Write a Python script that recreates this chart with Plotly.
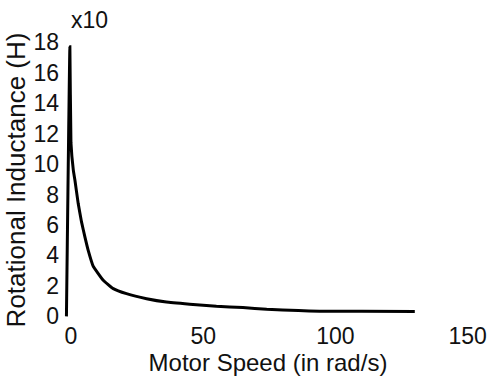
import plotly.graph_objects as go

# Data
speed = [-1.7, -0.4, 0.0, 0.9, 1.5, 2.75, 4.0, 5.3, 6.5, 8.4, 12.2, 16.0, 21.0, 28.6, 36.1, 44.9, 55.0, 65.0, 74.0, 86.0, 94.0, 110.0, 130.0]
inductance = [0.0, 17.7, 11.4, 9.6, 8.95, 7.4, 6.2, 5.2, 4.35, 3.3, 2.37, 1.82, 1.49, 1.16, 0.94, 0.8, 0.66, 0.58, 0.47, 0.38, 0.34, 0.33, 0.32]

x_ticks = [0, 50, 100, 150]
y_ticks = [0, 2, 4, 6, 8, 10, 12, 14, 16, 18]

FONT = "Liberation Sans, Arial, Helvetica, sans-serif"

fig = go.Figure()
fig.add_trace(go.Scatter(
    x=speed, y=inductance, mode="lines",
    line=dict(color="black", width=3, shape="spline", smoothing=0.3),
    showlegend=False, hoverinfo="skip",
))

fig.update_layout(
    width=491, height=376,
    margin=dict(l=63, r=18, t=36, b=52),
    paper_bgcolor="white", plot_bgcolor="white",
    font=dict(family=FONT, size=23, color="#111"),
    xaxis=dict(
        range=[-3, 152], tickvals=x_ticks, ticktext=[str(v) for v in x_ticks],
        showgrid=False, zeroline=False, showline=False, ticks="",
        tickfont=dict(size=23), ticklabelstandoff=-4, automargin=False,
        title=dict(text="Motor Speed (in rad/s)", font=dict(size=24), standoff=11),
    ),
    yaxis=dict(
        range=[-0.5, 18.4], tickvals=y_ticks, ticktext=[str(v) for v in y_ticks],
        showgrid=False, zeroline=False, showline=False, ticks="",
        tickfont=dict(size=23), ticklabelstandoff=3, automargin=False,
        title=dict(text="Rotational Inductance (H)", font=dict(size=26), standoff=0),
    ),
    annotations=[dict(
        text="x10", xref="paper", yref="paper", x=0.065, y=1.005,
        xanchor="center", yanchor="bottom", showarrow=False,
        font=dict(size=23, family=FONT, color="#111"),
    )],
)

fig.write_html("out.html")
